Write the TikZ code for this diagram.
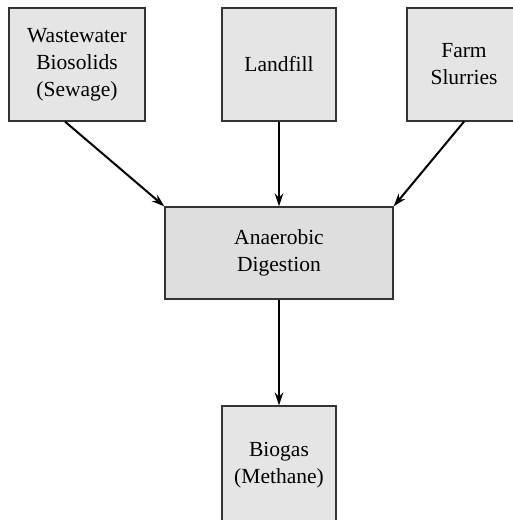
\documentclass[tikz,border=0pt]{standalone}
\usepackage{fontspec}
\setmainfont{Liberation Serif}
\usetikzlibrary{arrows.meta}
\begin{document}
\begin{tikzpicture}[x=1pt,y=1pt,
  box/.style={draw=black!80, line width=1.2pt, fill=black!10, rectangle,
    align=center, inner sep=0pt, font=\fontsize{21.5}{27}\selectfont},
  midbox/.style={box, fill=black!13},
  flow/.style={line width=2pt, -{Stealth[length=13pt,width=8.5pt]}}]
  \useasboundingbox (0,0) rectangle (512,-520);
  % sources
  \node[box, minimum width=136pt, minimum height=113pt] (ws) at (77,-64.5)
    {Wastewater\\Biosolids\\(Sewage)};
  \node[box, minimum width=114pt, minimum height=113pt] (lf) at (279,-64.5)
    {Landfill};
  \node[box, minimum width=114pt, minimum height=113pt] (fs) at (464,-64.5)
    {Farm\\Slurries};
  % process
  \node[midbox, minimum width=228pt, minimum height=92pt] (ad) at (279,-253)
    {Anaerobic\\Digestion};
  % product (runs off the lower edge)
  \node[box, minimum width=114pt, minimum height=124pt] (bg) at (279,-468)
    {Biogas\\(Methane)\\[-17pt]};
  % connectors
  \draw[flow] ([xshift=-12pt]ws.south) -- (ad.north west);
  \draw[flow] (lf.south) -- (ad.north);
  \draw[flow] (fs.south) -- (ad.north east);
  \draw[flow] (ad.south) -- (bg.north);
\end{tikzpicture}
\end{document}
